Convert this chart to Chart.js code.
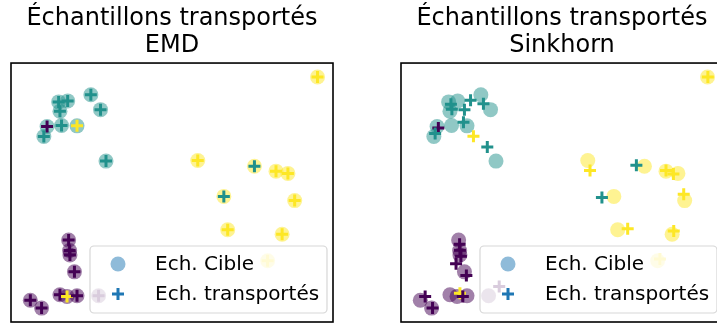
<!DOCTYPE html>
<html>
<head>
<meta charset="utf-8">
<script src="https://cdn.jsdelivr.net/npm/chart.js@4.4.0/dist/chart.umd.min.js"></script>
<style>
  html, body { margin: 0; padding: 0; background: #fff; }
  #fig { position: relative; width: 717px; height: 331px; overflow: hidden; }
  .panel { position: absolute; top: 0; width: 350px; height: 331px; }
</style>
</head>
<body>
<div id="fig">
  <div class="panel" style="left:0"><canvas id="cEmd" width="350" height="331"></canvas></div>
  <div class="panel" style="left:390px"><canvas id="cSink" width="350" height="331"></canvas></div>
</div>
<script>
// target samples (shared by both panels) : 10 per class
const targetX = [2.48, 1.48, 1.76, 1.52, 2.78, 1.12, 1.57, 2.05, 1.02, 2.95,
                 9.52, 5.80, 7.56, 8.23, 8.60, 6.61, 8.81, 6.73, 8.42, 7.97,
                 1.79, 1.82, 1.83, 1.97, 1.52, 1.74, 2.05, 0.60, 0.95, 2.72];
const targetY = [7.02, 6.80, 6.83, 6.51, 6.56, 6.04, 6.07, 6.06, 5.73, 4.97,
                 7.57, 4.99, 4.81, 4.66, 4.59, 3.88, 3.75, 2.85, 2.71, 1.89,
                 2.53, 2.21, 2.07, 1.55, 0.84, 0.79, 0.81, 0.67, 0.43, 0.81];
const targetClass = [1,1,1,1,1,1,1,1,1,1, 2,2,2,2,2,2,2,2,2,2, 0,0,0,0,0,0,0,0,0,0];

// source classes of the transported samples
const sourceClass = [1,1,1,1,1,0,1,2,1,1, 2,2,1,2,2,1,2,2,2,2, 0,0,0,0,0,2,0,0,0,0];

// EMD transport lands exactly on target samples
const emdX = [2.48, 1.48, 1.76, 1.52, 2.78, 1.12, 1.57, 2.05, 1.02, 2.95,
              9.52, 5.80, 7.56, 8.23, 8.60, 6.61, 8.81, 6.73, 8.42, 7.97,
              1.79, 1.82, 1.83, 1.97, 1.52, 1.74, 2.05, 0.60, 0.95, 2.72];
const emdY = [7.02, 6.80, 6.83, 6.51, 6.56, 6.04, 6.07, 6.06, 5.73, 4.97,
              7.57, 4.99, 4.81, 4.66, 4.59, 3.88, 3.75, 2.85, 2.71, 1.89,
              2.53, 2.21, 2.07, 1.55, 0.84, 0.79, 0.81, 0.67, 0.43, 0.81];

// Sinkhorn (regularised) transport
const sinkX = [2.16, 1.55, 1.97, 1.58, 2.56, 1.16, 1.94, 2.25, 1.06, 2.68,
               9.53, 5.87, 7.31, 8.23, 8.46, 6.24, 8.78, 7.04, 8.47, 8.04,
               1.82, 1.83, 1.86, 1.71, 2.03, 1.83, 1.92, 0.75, 0.98, 3.05];
const sinkY = [6.85, 6.73, 6.56, 6.57, 6.74, 5.99, 6.17, 5.74, 5.82, 5.41,
               7.57, 4.68, 4.84, 4.68, 4.57, 3.85, 3.95, 2.88, 2.81, 1.95,
               2.40, 2.22, 2.03, 1.80, 1.44, 0.89, 0.79, 0.79, 0.43, 1.10];

const seriesLabels = ['Ech. Cible', 'Ech. transportés'];
const panelTitle = 'Échantillons transportés';
const methodNames = ['EMD', 'Sinkhorn'];

const viridis = [[68, 1, 84], [33, 145, 140], [253, 231, 37]];
const rgba = (c, a) => `rgba(${c[0]},${c[1]},${c[2]},${a})`;
const FONT = "'DejaVu Sans', sans-serif";

if (window.Chart) Chart.defaults.animation = false;

// axes frame + legend box, drawn over the points
const framePlugin = {
  id: 'frameLegend',
  afterDatasetsDraw(chart) {
    const ctx = chart.ctx, ca = chart.chartArea;
    ctx.save();
    ctx.strokeStyle = '#000';
    ctx.lineWidth = 1.6;
    ctx.strokeRect(ca.left, ca.top, ca.right - ca.left, ca.bottom - ca.top);

    // legend
    const w = 237, h = 67;
    const x0 = ca.right - 6 - w, y0 = ca.bottom - 9 - h;
    const r = 4;
    ctx.beginPath();
    ctx.moveTo(x0 + r, y0);
    ctx.arcTo(x0 + w, y0, x0 + w, y0 + h, r);
    ctx.arcTo(x0 + w, y0 + h, x0, y0 + h, r);
    ctx.arcTo(x0, y0 + h, x0, y0, r);
    ctx.arcTo(x0, y0, x0 + w, y0, r);
    ctx.closePath();
    ctx.fillStyle = 'rgba(255,255,255,0.8)';
    ctx.fill();
    ctx.strokeStyle = 'rgba(204,204,204,0.8)';
    ctx.lineWidth = 1.2;
    ctx.stroke();

    const mx = x0 + 28;
    const rows = [y0 + 18, y0 + 48];
    // circle entry
    ctx.fillStyle = 'rgba(31,119,180,0.5)';
    ctx.beginPath();
    ctx.arc(mx, rows[0], 7.5, 0, Math.PI * 2);
    ctx.fill();
    // plus entry
    ctx.strokeStyle = '#1f77b4';
    ctx.lineWidth = 3;
    ctx.beginPath();
    ctx.moveTo(mx - 6, rows[1]); ctx.lineTo(mx + 6, rows[1]);
    ctx.moveTo(mx, rows[1] - 6); ctx.lineTo(mx, rows[1] + 6);
    ctx.stroke();

    ctx.fillStyle = '#000';
    ctx.font = '20px ' + FONT;
    ctx.textBaseline = 'middle';
    ctx.textAlign = 'left';
    chart.data.datasets.forEach((ds, i) => ctx.fillText(ds.label, x0 + 65, rows[i] + 1));
    ctx.restore();
  }
};

function makePanel(id, method, tx, ty) {
  const targets = targetX.map((x, i) => ({x, y: targetY[i]}));
  const moved = tx.map((x, i) => ({x, y: ty[i]}));
  new Chart(document.getElementById(id), {
    type: 'scatter',
    data: {
      datasets: [
        {
          label: seriesLabels[0],
          data: targets,
          order: 2,
          pointStyle: 'circle',
          pointRadius: 7.5,
          pointBorderWidth: 0,
          pointBorderColor: 'rgba(0,0,0,0)',
          pointBackgroundColor: targetClass.map(c => rgba(viridis[c], 0.5))
        },
        {
          label: seriesLabels[1],
          data: moved,
          order: 1,
          pointStyle: 'cross',
          pointRadius: 6,
          pointBorderWidth: 3,
          pointBorderColor: sourceClass.map(c => rgba(viridis[c], 1)),
          pointBackgroundColor: sourceClass.map(c => rgba(viridis[c], 1))
        }
      ]
    },
    options: {
      responsive: false,
      events: [],
      layout: { padding: { left: 11, right: 17, top: 0, bottom: 5 } },
      scales: {
        x: { type: 'linear', min: 0, max: 10, display: false },
        y: { type: 'linear', min: 0, max: 8, display: false }
      },
      plugins: {
        legend: { display: false },
        tooltip: { enabled: false },
        title: {
          display: true,
          text: [panelTitle, method],
          color: '#000',
          font: { family: FONT, size: 24, weight: 'normal', lineHeight: 1.13 },
          padding: { top: 5, bottom: 3.8 }
        }
      }
    },
    plugins: [framePlugin]
  });
}

makePanel('cEmd', methodNames[0], emdX, emdY);
makePanel('cSink', methodNames[1], sinkX, sinkY);
</script>
</body>
</html>
